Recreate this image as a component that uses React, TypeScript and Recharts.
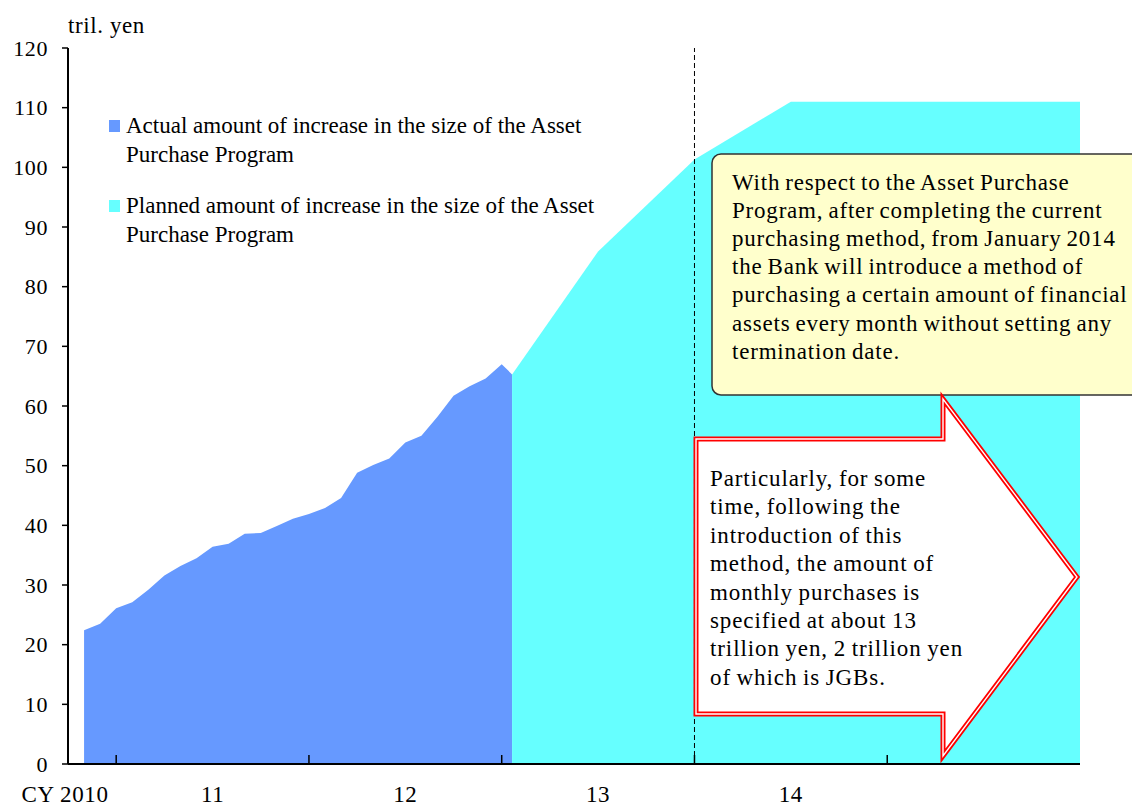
import React from "react";
import { ComposedChart, Area, XAxis, YAxis, ReferenceLine, Legend } from "recharts";

const FONT = '"Liberation Serif", "Times New Roman", serif';

// Month-end observations; the last one is the latest reading (mid-January 2013)
const actualDates = [
  "2010-10-31", "2010-11-30", "2010-12-31",
  "2011-01-31", "2011-02-28", "2011-03-31", "2011-04-30", "2011-05-31", "2011-06-30",
  "2011-07-31", "2011-08-31", "2011-09-30", "2011-10-31", "2011-11-30", "2011-12-31",
  "2012-01-31", "2012-02-29", "2012-03-31", "2012-04-30", "2012-05-31", "2012-06-30",
  "2012-07-31", "2012-08-31", "2012-09-30", "2012-10-31", "2012-11-30", "2012-12-31",
  "2013-01-20",
];
const actualValues = [
  22.4, 23.5, 26.1,
  27.1, 29.2, 31.6, 33.2, 34.5, 36.4,
  36.9, 38.6, 38.7, 39.9, 41.1, 41.9,
  42.9, 44.6, 48.8, 50.1, 51.2, 53.9,
  55.0, 58.2, 61.7, 63.3, 64.6, 67.0,
  65.3,
];

const plannedDates = ["2013-01-20", "2013-06-30", "2013-12-31", "2014-06-30", "2015-12-31"];
const plannedValues = [65.3, 85.9, 101.3, 111.0, 111.0];

const yTicks = [0, 10, 20, 30, 40, 50, 60, 70, 80, 90, 100, 110, 120];
const yearBoundaries = [2011, 2012, 2013, 2014, 2015];
const yearLabels = ["CY 2010", "11", "12", "13", "14"];

const boxLines = [
  "With respect to the Asset Purchase",
  "Program, after completing the current",
  "purchasing method, from January 2014",
  "the Bank will introduce a method of",
  "purchasing a certain amount of financial",
  "assets every month without setting any",
  "termination date.",
];
const arrowLines = [
  "Particularly, for some",
  "time, following the",
  "introduction of this",
  "method, the amount of",
  "monthly purchases is",
  "specified at about 13",
  "trillion yen, 2 trillion yen",
  "of which is JGBs.",
];

// months since 1 Oct 2010 (fractional by day)
function toMonthIndex(s: string) {
  const [y, m, d] = s.split("-").map(Number);
  const dim = new Date(y, m, 0).getDate();
  return (y - 2010) * 12 + (m - 10) + d / dim;
}
const yearStart = (y: number) => (y - 2010) * 12 - 9;

const X_DOMAIN: [number, number] = [0, yearStart(2016)];
const boundaryTicks = yearBoundaries.map(yearStart);
// "CY 2010" sits at the axis start, the rest mid-year
const labelTicks = yearLabels.map((_, i) => (i === 0 ? 0 : yearStart(2010 + i) + 6));

function buildRows() {
  const map = new Map<number, { t: number; actual?: number; planned?: number }>();
  actualDates.forEach((d, i) => {
    const t = toMonthIndex(d);
    map.set(t, { ...(map.get(t) || { t }), actual: actualValues[i] });
  });
  plannedDates.forEach((d, i) => {
    const t = toMonthIndex(d);
    map.set(t, { ...(map.get(t) || { t }), planned: plannedValues[i] });
  });
  return [...map.values()].sort((a, b) => a.t - b.t);
}
const rows = buildRows();

function YearTick({ x, y, payload }: any) {
  const v = payload.value;
  if (boundaryTicks.indexOf(v) >= 0) {
    return <line x1={x} x2={x} y1={y} y2={y - 9} stroke="#000" strokeWidth={1.5} />;
  }
  const li = labelTicks.indexOf(v);
  if (li < 0) return null;
  return (
    <text x={li === 0 ? x - 3 : x} y={y + 38} textAnchor="middle" fontFamily={FONT} fontSize={23} letterSpacing={0.6} fill="#000">
      {yearLabels[li]}
    </text>
  );
}

function LegendBox({ payload }: any) {
  return (
    <div style={{ fontFamily: FONT, fontSize: 23, lineHeight: "28.5px", color: "#000", width: 520 }}>
      {(payload || []).map((p: any, i: number) => (
        <div key={i} style={{ position: "relative", paddingLeft: 17, marginBottom: i === 0 ? 23 : 0 }}>
          <span style={{ position: "absolute", left: 0, top: 8, width: 11, height: 12, background: p.color }} />
          {p.value}
        </div>
      ))}
    </div>
  );
}

export default function App() {
  return (
    <div style={{ position: "absolute", left: 0, top: 0, width: 1132, height: 807, background: "#fff" }}>
      <ComposedChart width={1132} height={807} data={rows} margin={{ top: 48, right: 52, bottom: 0, left: 0 }}>
        <Area
          dataKey="actual"
          name="Actual amount of increase in the size of the Asset Purchase Program"
          type="linear"
          fill="#6699FF"
          fillOpacity={1}
          stroke="none"
          isAnimationActive={false}
        />
        <Area
          dataKey="planned"
          name="Planned amount of increase in the size of the Asset Purchase Program"
          type="linear"
          fill="#66FFFF"
          fillOpacity={1}
          stroke="none"
          isAnimationActive={false}
        />
        <ReferenceLine x={toMonthIndex("2013-12-31")} stroke="#000" strokeDasharray="5 3" strokeWidth={1} />
        <XAxis
          dataKey="t"
          type="number"
          domain={X_DOMAIN}
          allowDataOverflow
          ticks={[...boundaryTicks, ...labelTicks]}
          interval={0}
          height={43}
          tickSize={0}
          tickMargin={0}
          tickLine={false}
          axisLine={{ stroke: "#000", strokeWidth: 2 }}
          tick={<YearTick />}
        />
        <XAxis
          xAxisId="frame"
          orientation="top"
          type="number"
          domain={X_DOMAIN}
          height={0}
          tick={false}
          tickLine={false}
          axisLine={{ stroke: "#000", strokeWidth: 1.5 }}
        />
        <YAxis
          type="number"
          domain={[0, 120]}
          ticks={yTicks}
          interval={0}
          width={68}
          tickSize={6}
          tickMargin={14}
          axisLine={{ stroke: "#000", strokeWidth: 2 }}
          tickLine={{ stroke: "#000", strokeWidth: 1.5 }}
          tick={{ fill: "#000", fontSize: 22, fontFamily: FONT, letterSpacing: 0.6 }}
        />
        <YAxis
          yAxisId="frame"
          orientation="right"
          type="number"
          domain={[0, 120]}
          width={0}
          tick={false}
          tickLine={false}
          axisLine={{ stroke: "#000", strokeWidth: 1.5 }}
        />
        <Legend
          layout="horizontal"
          verticalAlign="middle"
          align="center"
          content={<LegendBox />}
          wrapperStyle={{ left: 109, top: 112, width: 540, height: "auto" }}
        />
      </ComposedChart>

      <svg width={1132} height={807} style={{ position: "absolute", left: 0, top: 0, pointerEvents: "none" }}>
        <text x={68} y={33} fontFamily={FONT} fontSize={23} letterSpacing={0.6} fill="#000">tril. yen</text>

        {/* yellow callout */}
        <rect x={712} y={154} width={460} height={241} rx={9} fill="#FFFFCC" stroke="#333" strokeWidth={1.5} />
        <g fontFamily={FONT} fontSize={23} fill="#000" letterSpacing={0.8} wordSpacing={-1.5}>
          {boxLines.map((s, i) => (
            <text key={i} x={732} y={189.5 + i * 28.2}>{s}</text>
          ))}
        </g>

        {/* double-outlined red arrow */}
        <polygon
          points="696,439 943,439 943,399 1077,577 943,756 943,714 696,714"
          fill="#fff"
          stroke="#FF0000"
          strokeWidth={5}
          strokeLinejoin="miter"
        />
        <polygon
          points="696,439 943,439 943,399 1077,577 943,756 943,714 696,714"
          fill="none"
          stroke="#fff"
          strokeWidth={1.4}
          strokeLinejoin="miter"
        />
        <g fontFamily={FONT} fontSize={23} fill="#000" letterSpacing={0.9} wordSpacing={-1}>
          {arrowLines.map((s, i) => (
            <text key={i} x={710} y={486 + i * 28.4}>{s}</text>
          ))}
        </g>
      </svg>
    </div>
  );
}
